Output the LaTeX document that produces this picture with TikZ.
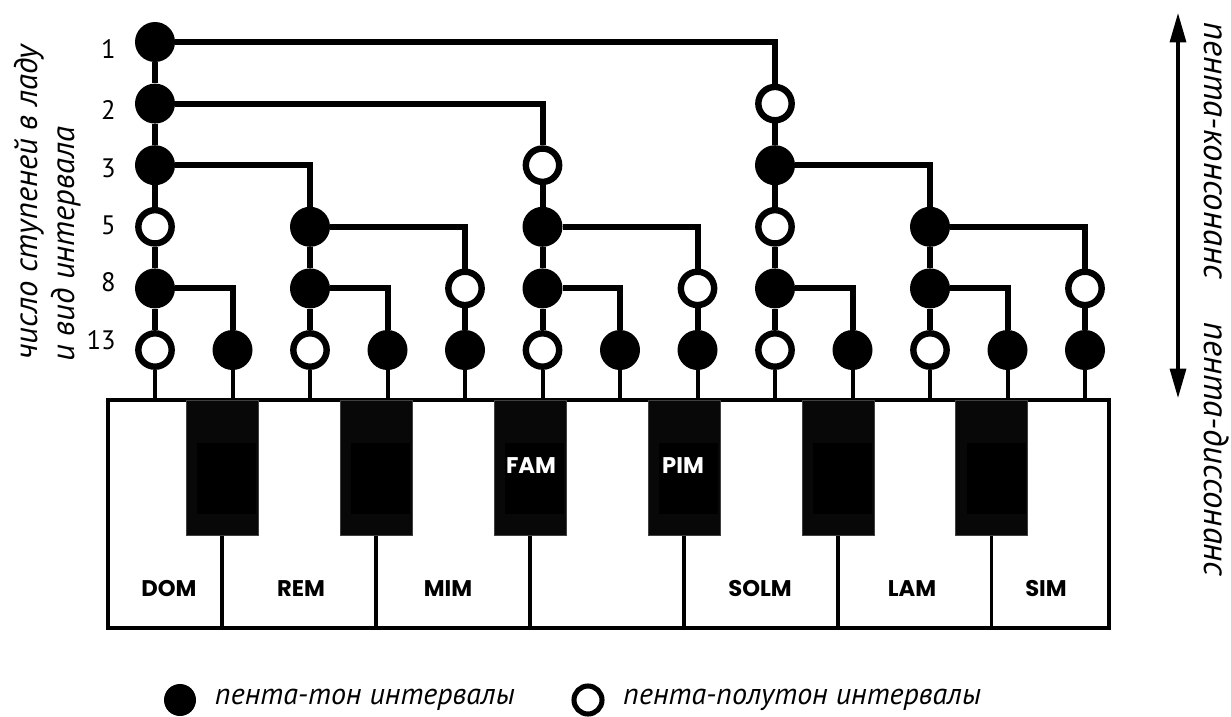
\documentclass[tikz,border=0pt]{standalone}
\usepackage{fontspec}
\setmainfont{PT Sans}
\newfontfamily\keyfont{Poppins}
\usetikzlibrary{arrows.meta, positioning}

\begin{document}
\begin{tikzpicture}[
    x=0.75pt, y=-0.75pt,
    ton/.style={circle, fill=black, inner sep=0pt, minimum size=30pt},
    semi/.style={circle, draw=black, fill=white, line width=4.8pt, inner sep=0pt, minimum size=25pt},
    link/.style={line width=4.5pt},
    stem/.style={line width=3pt},
    num/.style={anchor=east, inner sep=0pt, font=\fontsize{20}{22}\selectfont},
    note/.style={inner sep=0pt, font=\fontsize{22.5}{26}\selectfont\itshape},
    keyline/.style={line width=2.4pt},
    blackkey/.style={fill=black!97, draw=black!75, line width=0.6pt},
    keyname/.style={inner sep=0pt, font=\keyfont\bfseries\fontsize{17}{20}\selectfont},
    bothway/.style={{Triangle[length=22pt,width=12pt]}-{Triangle[length=22pt,width=12pt]}, line width=2.4pt}
]
\useasboundingbox (0,0) rectangle (1231,717);

% Tree: rows 1, 2, 3, 5, 8, 13
\node[ton]  (a1) at (155,42) {};
\node[ton]  (a2) at (155,103.6) {};
\node[ton]  (a3) at (155,165.2) {};
\node[semi] (a5) at (155,226.8) {};
\node[ton]  (a8) at (155,288.4) {};
\node[semi] (b0) at (155,350) {};
\node[ton]  (b1) at (232.5,350) {};

\node[ton]  (c5) at (310,226.8) {};
\node[ton]  (c8) at (310,288.4) {};
\node[semi] (b2) at (310,350) {};
\node[ton]  (b3) at (387.5,350) {};
\node[semi] (d8) at (465,288.4) {};
\node[ton]  (b4) at (465,350) {};

\node[semi] (e3) at (542.5,165.2) {};
\node[ton]  (e5) at (542.5,226.8) {};
\node[ton]  (e8) at (542.5,288.4) {};
\node[semi] (b5) at (542.5,350) {};
\node[ton]  (b6) at (620,350) {};
\node[semi] (f8) at (697.5,288.4) {};
\node[ton]  (b7) at (697.5,350) {};

\node[semi] (g2) at (775,103.6) {};
\node[ton]  (g3) at (775,165.2) {};
\node[semi] (g5) at (775,226.8) {};
\node[ton]  (g8) at (775,288.4) {};
\node[semi] (b8) at (775,350) {};
\node[ton]  (b9) at (852.5,350) {};

\node[ton]  (h5) at (930,226.8) {};
\node[ton]  (h8) at (930,288.4) {};
\node[semi] (b10) at (930,350) {};
\node[ton]  (b11) at (1007.5,350) {};
\node[semi] (i8) at (1085,288.4) {};
\node[ton]  (b12) at (1085,350) {};

% Vertical chains
\draw[link] (a1) -- (a2) -- (a3) -- (a5) -- (a8) -- (b0);
\draw[link] (c5) -- (c8) -- (b2);
\draw[link] (d8) -- (b4);
\draw[link] (e3) -- (e5) -- (e8) -- (b5);
\draw[link] (f8) -- (b7);
\draw[link] (g2) -- (g3) -- (g5) -- (g8) -- (b8);
\draw[link] (h5) -- (h8) -- (b10);
\draw[link] (i8) -- (b12);

% Branches
\draw[link] (a1) -| (g2);
\draw[link] (a2) -| (e3);
\draw[link] (a3) -| (c5);
\draw[link] (a8) -| (b1);
\draw[link] (c5) -| (d8);
\draw[link] (c8) -| (b3);
\draw[link] (e5) -| (f8);
\draw[link] (e8) -| (b6);
\draw[link] (g3) -| (h5);
\draw[link] (g8) -| (b9);
\draw[link] (h5) -| (i8);
\draw[link] (h8) -| (b11);

% Row numbers
\node[num] (n1) at (116,49) {1};
\node[num] (n2) at (116,110) {2};
\node[num] (n3) at (116,168) {3};
\node[num] (n5) at (116,225) {5};
\node[num] (n8) at (116,282) {8};
\node[num] (n13) at (116,340) {13};

\node[note, rotate=90, anchor=base west, font=\fontsize{24.5}{28}\selectfont\itshape] (axis1) at (37,360) {число ступеней в ладу};
\node[note, rotate=90, anchor=base west, font=\fontsize{24.5}{28}\selectfont\itshape] (axis2) at (74,362) {и вид интервала};

% Keyboard
\coordinate (kbnw) at (108,400);
\coordinate (kbse) at (1109,628);
\foreach \i in {0,...,12}
  \draw[stem] (b\i) -- (b\i |- kbnw);
\draw[keyline, fill=white] (kbnw) rectangle (kbse);
\foreach \x in {222,376,530,684,838,991.5} {
  \draw[keyline] (\x,535) -- (\x,628);
  \draw[blackkey] (\x-36,400) rectangle (\x+36,535);
  \fill[black] (\x-25,443) rectangle (\x+34,514);
}
\node[keyname] (dom) at (169,589) {DOM};
\node[keyname] (rem) at (301,589) {REM};
\node[keyname] (mim) at (448,589) {MIM};
\node[keyname] (solm) at (760,589) {SOLM};
\node[keyname] (lam) at (912,589) {LAM};
\node[keyname] (sim) at (1046,589) {SIM};
\node[keyname, text=white] (fam) at (531,466) {FAM};
\node[keyname, text=white] (pim) at (683,466) {PIM};

% Right scale
\coordinate (up) at (1178,13);
\coordinate (down) at (1178,398);
\draw[bothway] (up) -- (down);
\node[note, rotate=-90, anchor=base west, font=\fontsize{26}{30}\selectfont\itshape] (cons) at (1204,22) {пента-консонанс};
\node[note, rotate=-90, anchor=base west, font=\fontsize{26}{30}\selectfont\itshape] (diss) at (1204,322) {пента-диссонанс};

% Legend
\node[ton, minimum size=24pt] (legton) at (180,700) {};
\node[note, right=14pt of legton] (legtontext) {пента-тон интервалы};
\node[semi, minimum size=21pt, line width=3.8pt] (legsemi) at (588,700) {};
\node[note, right=14pt of legsemi] (legsemitext) {пента-полутон интервалы};

\end{tikzpicture}
\end{document}
